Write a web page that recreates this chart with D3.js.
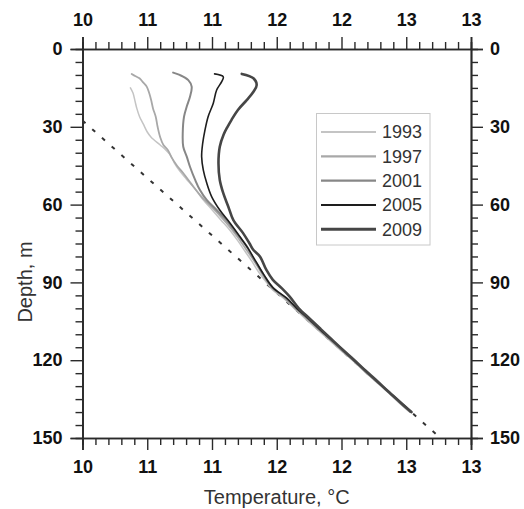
<!DOCTYPE html>
<html><head><meta charset="utf-8">
<script src="https://cdn.jsdelivr.net/npm/d3@7"></script>
<style>
body{margin:0;background:#fff;}
svg{display:block;font-family:"Liberation Sans",Arial,sans-serif;}
</style></head>
<body>
<svg id="c" width="524" height="509"></svg>
<script>
// ---- data ----
const years = ["1993","1997","2001","2005","2009"];
const colors = ["#c4c4c4","#a8a8a8","#878787","#1e1e1e","#464646"];
const widths = [1.5,1.8,2,1.6,2.6];

const depth1993 = [15,17,20,23,26,29,32,34,37,39,41,44,47,50,54,58,62,66,70,74,78,82,86,90,93,96,100,104,108,112,116,120,124,128,132,136,140];
const temp1993  = [10.37,10.39,10.405,10.42,10.44,10.47,10.50,10.53,10.60,10.645,10.68,10.71,10.75,10.80,10.87,10.93,11.0,11.07,11.14,11.20,11.255,11.31,11.36,11.42,11.47,11.55,11.635,11.72,11.81,11.90,11.99,12.085,12.17,12.26,12.35,12.44,12.53];

const depth1997 = [9.6,10.5,11.3,13,14.5,17,19.7,23,26,30,34,37,39,42,45,48,52,57,62,67,72,77,82,87,92,96,100,104,108,112,116,120,124,128,132,136,140];
const temp1997  = [10.38,10.41,10.44,10.47,10.496,10.515,10.53,10.545,10.565,10.58,10.60,10.625,10.66,10.69,10.73,10.78,10.84,10.92,11.02,11.11,11.19,11.26,11.33,11.39,11.46,11.56,11.64,11.735,11.82,11.91,12.0,12.09,12.18,12.27,12.36,12.445,12.535];

const depth2001 = [9.1,10,12,14.5,18.4,22.2,26.1,32.5,37.7,41.5,45.4,50.5,54.4,58.2,62.1,66,71.1,76.2,80,84,88,92,96,100,104,108,112,116,120,124,128,132,136,140];
const temp2001  = [10.70,10.75,10.817,10.843,10.83,10.805,10.784,10.774,10.778,10.805,10.83,10.87,10.907,10.959,11.036,11.11,11.19,11.27,11.31,11.36,11.41,11.47,11.57,11.65,11.74,11.825,11.915,12.0,12.09,12.175,12.265,12.355,12.44,12.53];

const depth2005 = [9.6,10.7,12.6,15.8,20.9,26.1,31.2,36.4,41.5,46.7,51.8,57,62.1,67.2,72.4,77,82,87,92,96,100,104,108,112,116,120,124,128,132,136,140];
const temp2005  = [11.02,11.087,11.075,11.036,11.01,10.97,10.946,10.928,10.92,10.933,10.96,10.998,11.06,11.14,11.216,11.28,11.34,11.40,11.47,11.575,11.655,11.745,11.83,11.92,12.01,12.095,12.185,12.27,12.36,12.45,12.54];

const depth2009 = [9.6,11.3,13.9,16.5,19.7,23.5,27.4,30,33,37.7,44.1,50.5,55.6,60.8,66,71,75,77.5,80,85.2,89,92.3,95.5,100,104,108,112,116,120,124,128,132,136,140];
const temp2009  = [11.23,11.32,11.345,11.32,11.268,11.20,11.15,11.12,11.09,11.06,11.05,11.06,11.087,11.126,11.165,11.24,11.29,11.32,11.37,11.42,11.47,11.54,11.60,11.67,11.755,11.84,11.925,12.01,12.10,12.185,12.275,12.36,12.45,12.54];

const depths = [depth1993,depth1997,depth2001,depth2005,depth2009];
const temps  = [temp1993,temp1997,temp2001,temp2005,temp2009];

// steady-state geotherm (dashed)
const dashTemp  = [10, 12.75];
const dashDepth = [27.6, 149.4];

const xMajor = [10,10.5,11,11.5,12,12.5,13];
const yMajor = [0,30,60,90,120,150];

// ---- layout ----
const L=82.5, R=471, T=49, B=438;
const x = d3.scaleLinear().domain([10,13]).range([L,R]);
const y = d3.scaleLinear().domain([0,150]).range([T,B]);
const svg = d3.select("#c");

const xMinor = d3.range(0,31).map(i=>10+i*0.1).filter(v=>Math.abs(v*2-Math.round(v*2))>1e-6);
const yMinor = d3.range(0,151,5).filter(v=>v%30!==0);

function styleAxis(g){
  g.select(".domain").attr("stroke","#2a2a2a").attr("stroke-width",1.7);
  g.selectAll(".tick line").attr("stroke","#2a2a2a").attr("stroke-width",1.4);
  g.selectAll(".tick text").attr("fill","#111").attr("font-size",18).attr("font-weight","bold")
    .attr("font-family","'Liberation Sans',Arial,sans-serif");
}
const fmt = d=>Math.round(d);

// minor ticks
svg.append("g").attr("transform",`translate(0,${B})`).call(d3.axisBottom(x).tickValues(xMinor).tickSize(7).tickFormat("")).call(styleAxis);
svg.append("g").attr("transform",`translate(0,${T})`).call(d3.axisTop(x).tickValues(xMinor).tickSize(7).tickFormat("")).call(styleAxis);
svg.append("g").attr("transform",`translate(${L},0)`).call(d3.axisLeft(y).tickValues(yMinor).tickSize(7).tickFormat("")).call(styleAxis);
svg.append("g").attr("transform",`translate(${R},0)`).call(d3.axisRight(y).tickValues(yMinor).tickSize(7).tickFormat("")).call(styleAxis);
// major ticks
svg.append("g").attr("transform",`translate(0,${B})`).call(d3.axisBottom(x).tickValues(xMajor).tickSize(12).tickPadding(10).tickFormat(fmt)).call(styleAxis);
svg.append("g").attr("transform",`translate(0,${T})`).call(d3.axisTop(x).tickValues(xMajor).tickSize(12).tickPadding(11).tickFormat(fmt)).call(styleAxis);
svg.append("g").attr("transform",`translate(${L},0)`).call(d3.axisLeft(y).tickValues(yMajor).tickSize(12).tickPadding(8).tickFormat(fmt)).call(styleAxis);
svg.append("g").attr("transform",`translate(${R},0)`).call(d3.axisRight(y).tickValues(yMajor).tickSize(12).tickPadding(7).tickFormat(fmt)).call(styleAxis);

// dashed geotherm
const line = d3.line().x(d=>x(d[0])).y(d=>y(d[1]));
svg.append("path").datum(dashTemp.map((t,i)=>[t,dashDepth[i]]))
  .attr("d",line).attr("fill","none").attr("stroke","#333").attr("stroke-width",2)
  .attr("stroke-dasharray","4,9");

// profiles
const curve = d3.line().x(d=>x(d[0])).y(d=>y(d[1])).curve(d3.curveCatmullRom.alpha(0.5));
years.forEach((yr,i)=>{
  svg.append("path").datum(temps[i].map((t,j)=>[t,depths[i][j]]))
    .attr("d",curve).attr("fill","none").attr("stroke",colors[i]).attr("stroke-width",widths[i])
    .attr("stroke-linejoin","round").attr("stroke-linecap","round");
});

// legend
const lg = svg.append("g");
lg.append("rect").attr("x",316.5).attr("y",113.5).attr("width",113.5).attr("height",131.5)
  .attr("fill","#fff").attr("stroke","#c8c8c8").attr("stroke-width",1);
years.forEach((yr,i)=>{
  const yy = 132 + i*24.3;
  lg.append("line").attr("x1",321).attr("x2",376).attr("y1",yy).attr("y2",yy)
    .attr("stroke",colors[i]).attr("stroke-width",widths[i]+0.4);
  lg.append("text").attr("x",382).attr("y",yy).attr("dy","0.35em").attr("font-size",18)
    .attr("fill","#333").text(yr);
});

// axis titles
svg.append("text").attr("x",(L+R)/2).attr("y",504).attr("text-anchor","middle")
  .attr("font-size",20).attr("fill","#333").text("Temperature, °C");
svg.append("text").attr("transform","translate(25,282) rotate(-90)").attr("text-anchor","middle")
  .attr("dy","0.35em").attr("font-size",20).attr("fill","#333").text("Depth, m");
</script>
</body></html>
